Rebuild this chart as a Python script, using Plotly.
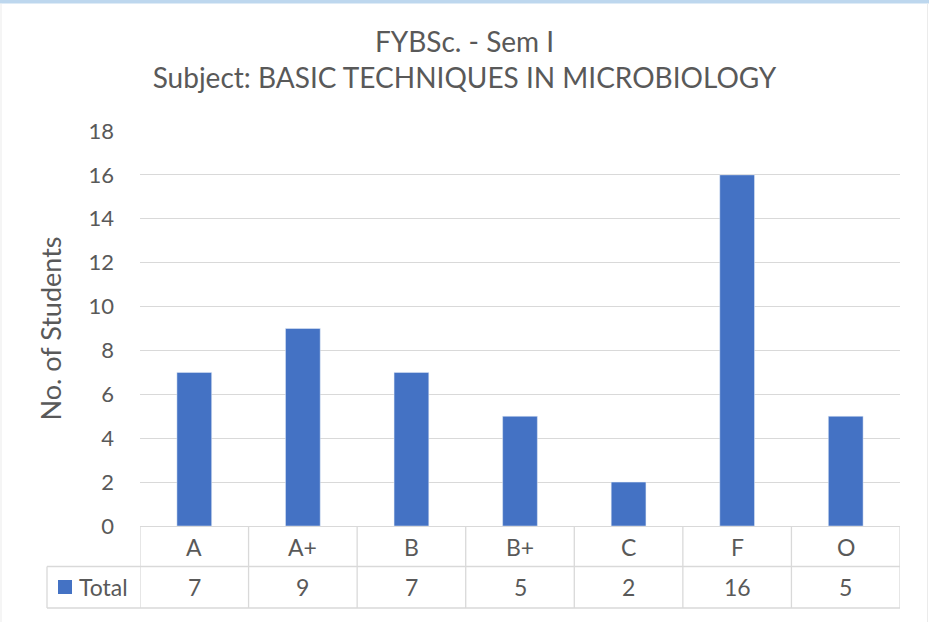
import plotly.graph_objects as go

categories = ["A", "A+", "B", "B+", "C", "F", "O"]
totals = [7, 9, 7, 5, 2, 16, 5]
series_name = "Total"
y_ticks = [0, 2, 4, 6, 8, 10, 12, 14, 16, 18]

title_line1 = "FYBSc. - Sem I"
title_line2 = "Subject: BASIC TECHNIQUES IN MICROBIOLOGY"
y_title = "No. of Students"

BAR = "#4472C4"
GRID = "#D9D9D9"
TXT = "#595959"
FONT = "Lato"

W, H = 929, 622
ML, MR, MT, MB = 140, 29, 131, 96
PW, PH = W - ML - MR, H - MT - MB


def px_x(px):
    return (px - ML) / PW


def px_y(py):
    return (H - MB - py) / PH


fig = go.Figure()
fig.add_trace(go.Bar(x=categories, y=totals, name=series_name,
                     marker_color=BAR, width=0.32, showlegend=False))

shapes = []
annotations = []
row1_top, row1_bot, row2_bot = px_y(526), px_y(566.5), px_y(608)
left_edge = px_x(47)
n = len(categories)

for i in range(n + 1):
    shapes.append(dict(type="line", xref="x", yref="paper", x0=i - 0.5, x1=i - 0.5,
                       y0=row1_top, y1=row2_bot, line=dict(color=GRID, width=1.3)))
shapes.append(dict(type="line", xref="paper", yref="paper", x0=left_edge, x1=left_edge,
                   y0=row1_bot, y1=row2_bot, line=dict(color=GRID, width=1.3)))
for yy in (row1_bot, row2_bot):
    shapes.append(dict(type="line", xref="paper", yref="paper", x0=left_edge, x1=1,
                       y0=yy, y1=yy, line=dict(color=GRID, width=1.3)))

shapes.append(dict(type="rect", xref="paper", yref="paper",
                   x0=px_x(58), x1=px_x(72), y0=px_y(594), y1=px_y(580),
                   fillcolor=BAR, line=dict(width=0)))

shapes.append(dict(type="rect", xref="paper", yref="paper",
                   x0=px_x(0), x1=px_x(W), y0=px_y(3.5), y1=px_y(0),
                   fillcolor="#BDD7EE", line=dict(width=0)))
for ex in (1, W - 1.5):
    shapes.append(dict(type="line", xref="paper", yref="paper", x0=px_x(ex), x1=px_x(ex),
                       y0=px_y(H), y1=px_y(3.5), line=dict(color="#EBEBEB", width=1)))

TABLE_FS = 23
row1_mid = px_y(547)
row2_mid = px_y(587)
for c, v in zip(categories, totals):
    annotations.append(dict(x=c, y=row1_mid, xref="x", yref="paper", text=c,
                            xanchor="center", yanchor="middle", showarrow=False,
                            font=dict(family=FONT, size=TABLE_FS, color=TXT)))
    annotations.append(dict(x=c, y=row2_mid, xref="x", yref="paper", text=str(v),
                            xanchor="center", yanchor="middle", showarrow=False,
                            font=dict(family=FONT, size=TABLE_FS, color=TXT)))
annotations.append(dict(x=px_x(77), y=row2_mid, xref="paper", yref="paper", text=series_name,
                        xanchor="left", yanchor="middle", showarrow=False,
                        font=dict(family=FONT, size=TABLE_FS, color=TXT)))

fig.update_layout(
    width=W, height=H,
    margin=dict(l=ML, r=MR, t=MT, b=MB, pad=0),
    paper_bgcolor="white", plot_bgcolor="white",
    title=dict(text=title_line1 + "<br>" + title_line2, x=0.5, xref="container",
               xanchor="center", y=1 - 52 / H, yref="container", yanchor="top",
               font=dict(family=FONT, size=28, color=TXT)),
    font=dict(family=FONT, color=TXT),
    shapes=shapes, annotations=annotations,
    xaxis=dict(range=[-0.5, n - 0.5], showticklabels=False, ticks="",
               showgrid=False, showline=False, zeroline=False, fixedrange=True),
    yaxis=dict(range=[0, 18], tickvals=y_ticks, showgrid=True, gridcolor=GRID,
               gridwidth=1.3, zeroline=True, zerolinecolor=GRID, zerolinewidth=1.3,
               showline=False, ticks="", ticklabelstandoff=25,
               tickfont=dict(family=FONT, size=22, color=TXT),
               title=dict(text=y_title, standoff=19,
                          font=dict(family=FONT, size=27, color=TXT))),
)

fig.write_html("out.html", config={"displayModeBar": False})

with open("out.html", "r", encoding="utf-8") as f:
    html = f.read()
html = html.replace("<head>", "<head><style>html,body{margin:0;padding:0;}</style>", 1)
with open("out.html", "w", encoding="utf-8") as f:
    f.write(html)
